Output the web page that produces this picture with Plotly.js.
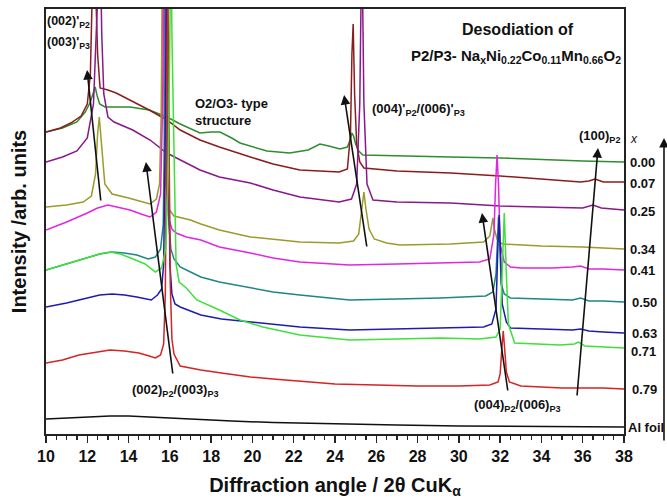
<!DOCTYPE html>
<html><head><meta charset="utf-8">
<script src="https://cdn.plot.ly/plotly-3.0.1.min.js"></script>
<style>body{margin:0;background:#fff}#chart{width:667px;height:504px}</style>
</head><body><div id="chart"></div>
<script>
// Series labels (Na content x) and colours
const seriesLabels = ["0.00", "0.07", "0.25", "0.34", "0.41", "0.50", "0.63", "0.71", "0.79", "Al foil"];
const seriesColors = ["#2f8c2f", "#8b1c1c", "#87198a", "#9c9a2a", "#e026df", "#1f8585", "#1c1cae", "#3fe03a", "#d42424", "#111111"];

// 2theta (deg) and intensity (arb.)
const x000 = [10, 10.8, 11.5, 11.9, 12.15, 12.28, 12.38, 12.48, 12.6, 12.86, 13.5, 14.07, 15.0, 15.86, 16.5, 17.46, 18.0, 18.43, 19.0, 19.4, 20.7, 21.8, 22.7, 23.27, 23.7, 24.24, 24.6, 24.75, 24.82, 24.9, 25.0, 25.15, 25.35, 27, 29.6, 32, 34.4, 36, 38];
const y000 = [302, 306, 312, 322, 332, 340, 347, 338, 330, 327, 327, 327, 324, 317, 310, 301, 302, 302, 296, 291, 283, 281, 284, 290, 288, 285, 287, 295, 301, 298, 290, 283, 279, 278, 277, 276, 274, 273, 272];

const x007 = [10, 10.7, 11.2, 11.7, 12.0, 12.15, 12.25, 12.32, 12.4, 12.5, 12.62, 13.0, 13.4, 14.07, 15.0, 15.86, 16.5, 17.46, 18.4, 19.9, 21, 22.3, 24.2, 24.6, 24.75, 24.82, 24.88, 24.95, 25.05, 25.2, 25.4, 27, 29.6, 32, 34, 35.9, 36.3, 36.6, 37, 38];
const y007 = [302, 306, 311, 318, 330, 360, 450, 500, 450, 380, 346, 344, 341, 334, 324, 314, 304, 294, 287, 277, 270, 264, 262, 265, 300, 380, 410, 340, 290, 272, 266, 263, 261, 258, 255, 252, 253, 255, 252, 252];

const x025 = [10, 10.8, 11.5, 12.0, 12.3, 12.45, 12.55, 12.62, 12.7, 12.8, 13.0, 13.3, 14.2, 15.04, 15.85, 16.5, 17.46, 18.4, 19.9, 21, 22.3, 24.2, 24.8, 25.05, 25.2, 25.3, 25.4, 25.55, 25.84, 27, 29.6, 32, 34, 36.0, 36.5, 36.9, 38];
const y025 = [272, 277, 283, 296, 330, 420, 500, 500, 400, 340, 317, 312, 304, 294, 281, 274, 264, 257, 251, 244, 237, 232, 235, 250, 330, 500, 330, 250, 234, 232, 231, 228, 227, 226, 229, 226, 224];

const x034 = [10, 11, 11.8, 12.2, 12.4, 12.5, 12.58, 12.68, 12.85, 13.2, 14.0, 15.04, 15.35, 15.5, 15.58, 15.65, 15.72, 15.8, 15.95, 16.2, 17.0, 17.5, 18.4, 19.9, 22.3, 24.2, 24.9, 25.15, 25.3, 25.4, 25.5, 25.65, 25.9, 26.5, 27.15, 29.6, 31.2, 31.5, 31.6, 31.65, 31.72, 31.85, 32.1, 34, 36, 38];
const y034 = [227, 229, 232, 238, 260, 300, 317, 290, 250, 240, 236, 230, 235, 250, 320, 500, 320, 250, 225, 218, 214, 210, 204, 197, 192, 191, 193, 200, 225, 242, 225, 205, 195, 191, 189, 190, 192, 198, 210, 216, 205, 195, 190, 188, 187, 185];

const x041 = [10, 11, 12, 12.5, 13.0, 13.5, 14.07, 14.6, 15.04, 15.35, 15.55, 15.65, 15.72, 15.78, 15.85, 15.95, 16.1, 16.3, 16.8, 17.5, 18.4, 19.9, 21, 22.3, 24.7, 27, 29.1, 31.0, 31.5, 31.7, 31.78, 31.85, 31.92, 32.0, 32.2, 32.5, 33, 34.5, 35.5, 35.9, 36.3, 37, 38];
const y041 = [204, 212, 221, 226, 229, 227, 224, 220, 217, 222, 240, 330, 500, 330, 240, 215, 205, 201, 197, 194, 187, 181, 176, 172, 169, 170, 171, 172, 175, 200, 250, 279, 250, 190, 172, 167, 166, 166, 167, 168, 165, 165, 164];

const x050 = [10, 11, 12, 12.6, 13.2, 13.8, 14.4, 14.95, 15.3, 15.55, 15.68, 15.75, 15.8, 15.86, 15.95, 16.05, 16.2, 16.5, 17.0, 17.5, 18.4, 19.9, 21, 22.3, 24.7, 27, 29.1, 31.3, 31.65, 31.8, 31.86, 31.92, 31.98, 32.05, 32.2, 32.5, 34, 35.5, 35.9, 36.3, 37, 38];
const y050 = [164, 170, 176, 180, 182, 181, 179, 175, 177, 185, 210, 330, 500, 330, 210, 185, 175, 167, 162, 157, 152, 146, 142, 139, 134, 135, 136, 138, 142, 160, 200, 217, 190, 150, 140, 136, 135, 134, 136, 133, 133, 132];

const x063 = [10, 11, 12, 12.6, 13.2, 13.8, 14.4, 15.1, 15.4, 15.6, 15.7, 15.78, 15.85, 15.92, 16.0, 16.1, 16.25, 16.5, 17.0, 17.5, 18.5, 19.9, 21, 22.3, 24.7, 27, 29.1, 31.2, 31.6, 31.8, 31.88, 31.95, 32.02, 32.1, 32.3, 32.5, 34, 35.5, 35.9, 36.3, 37, 38];
const y063 = [127, 131, 136, 139, 140, 139, 137, 134, 139, 145, 170, 300, 500, 300, 170, 140, 130, 127, 123, 119, 115, 112, 110, 107, 104, 105, 106, 107, 110, 125, 180, 219, 180, 130, 112, 106, 105, 104, 105, 103, 102, 101];

const x071 = [10, 11, 12, 12.6, 13.1, 13.6, 14.1, 14.8, 15.3, 15.6, 15.8, 15.92, 16.0, 16.05, 16.1, 16.18, 16.3, 16.45, 16.8, 17.3, 18.4, 19.4, 20.5, 22.3, 24.7, 27, 29.1, 31, 31.8, 32.0, 32.1, 32.2, 32.3, 32.4, 32.7, 33.5, 34.9, 35.6, 35.8, 36.1, 37, 38];
const y071 = [164, 170, 176, 180, 182, 180, 176, 170, 162, 166, 185, 260, 400, 500, 400, 300, 170, 152, 146, 134, 124, 114, 107, 99, 94, 95, 96, 95, 97, 105, 160, 221, 160, 110, 91, 90, 89, 90, 92, 88, 87, 86];

const x079 = [10, 10.8, 11.6, 12.4, 13.1, 13.8, 14.5, 15.0, 15.3, 15.55, 15.7, 15.78, 15.84, 15.9, 15.96, 16.02, 16.1, 16.2, 16.5, 17.0, 17.5, 18.5, 19.9, 21, 22.3, 24, 26, 28, 30, 31.5, 31.9, 32.0, 32.08, 32.15, 32.22, 32.3, 32.45, 33, 34, 35, 36, 37, 38];
const y079 = [71, 74, 79, 82, 84, 83, 81, 78, 76, 79, 90, 140, 300, 460, 300, 150, 95, 80, 68, 66, 64, 61, 57, 55, 53, 50, 49, 48, 48, 49, 52, 60, 85, 103, 85, 62, 52, 48, 47, 46, 46, 46, 45];

const xAl = [10, 11, 12, 13.1, 14, 15, 16, 17.5, 19, 21, 23, 25, 27, 30, 33, 36, 38];
const yAl = [15, 16, 17, 18, 18, 17, 15.5, 14, 13, 11.5, 10.5, 10, 9, 8, 7.5, 7, 7];

const xSeries = [x000, x007, x025, x034, x041, x050, x063, x071, x079, xAl];
const ySeries = [y000, y007, y025, y034, y041, y050, y063, y071, y079, yAl];

// x-axis ticks
const xTicks = [10, 12, 14, 16, 18, 20, 22, 24, 26, 28, 30, 32, 34, 36, 38];

// Layout geometry (pixels)
const W = 667, H = 504, L = 46, R = 43, T = 9, B = 70;
const PW = W - L - R, PH = H - T - B;
const px = p => (p - L) / PW;          // pixel x -> paper
const py = p => (H - B - p) / PH;      // pixel y -> paper

// draw order: back to front
const order = [9, 0, 1, 2, 3, 4, 5, 6, 8, 7];
const traces = order.map(i => ({
  type: "scatter", mode: "lines",
  x: xSeries[i], y: ySeries[i],
  name: seriesLabels[i],
  line: {color: seriesColors[i], width: 1.5},
  hoverinfo: "skip"
}));

const FONT = "Arial, 'Liberation Sans', sans-serif";
const bold = (size) => ({family: FONT, size: size, color: "#111", weight: 700});

const ann = [];
function label(text, xpx, ypx, size, anchor) {
  ann.push({text: text, xref: "paper", yref: "paper", x: px(xpx), y: py(ypx),
    xanchor: anchor || "left", yanchor: "middle", showarrow: false, font: bold(size), align: "left"});
}
label("(002)'<sub>P2</sub>", 45, 22, 12.5);
label("(003)'<sub>P3</sub>", 45, 43, 12.5);
label("Desodiation of", 518, 29, 16, "center");
label("P2/P3- Na<sub>x</sub>Ni<sub>0.22</sub>Co<sub>0.11</sub>Mn<sub>0.66</sub>O<sub>2</sub>", 623, 57, 15, "right");
label("O2/O3- type<br>structure", 193, 112, 13);
label("(004)'<sub>P2</sub>/(006)'<sub>P3</sub>", 370, 109, 13);
label("(100)<sub>P2</sub>", 577, 136, 13);
label("(002)<sub>P2</sub>/(003)<sub>P3</sub>", 130, 390, 13);
label("(004)<sub>P2</sub>/(006)<sub>P3</sub>", 472, 405, 13);
ann.push({text: "<i>x</i>", xref: "paper", yref: "paper", x: px(640), y: py(139), showarrow: false,
  yanchor: "middle", font: {family: FONT, size: 12, color: "#111"}});

// right-hand x labels
const rightY = [162, 183, 211, 249, 270, 302, 333, 351, 389, 427];
const rightX = [628, 628, 628, 628, 628, 630, 630, 629, 630, 626];
seriesLabels.forEach((s, i) => label(s, rightX[i], rightY[i], 13));

// arrows (tail -> head), in data coordinates of the plot
function arrow(x0, y0, x1, y1) {
  ann.push({x: x1, y: y1, ax: x0, ay: y0, xref: "x", yref: "y", axref: "x", ayref: "y",
    text: "", showarrow: true, arrowhead: 2, arrowsize: 1.2, arrowwidth: 1.6, arrowcolor: "#111"});
}
arrow(12.66, 232, 11.99, 364);
arrow(16.15, 59, 14.84, 272);
arrow(25.55, 186, 24.44, 339);
arrow(32.38, 42, 31.12, 221);
arrow(35.72, 37, 36.74, 286);
ann.push({x: px(664), y: py(138), xref: "paper", yref: "paper", ax: 0, ay: 304,
  text: "", showarrow: true, arrowhead: 2, arrowsize: 1.2, arrowwidth: 1.6, arrowcolor: "#111"});

const layout = {
  width: W, height: H,
  margin: {l: L, r: R, t: T, b: B},
  paper_bgcolor: "#fff", plot_bgcolor: "#fff",
  showlegend: false, hovermode: false,
  xaxis: {
    range: [10, 38], tickvals: xTicks, ticktext: xTicks.map(String),
    ticks: "outside", ticklen: 7, tickwidth: 1.5, tickcolor: "#222",
    minor: {dtick: 0.5, tick0: 10, ticks: "outside", ticklen: 4, tickwidth: 1.2, tickcolor: "#222"},
    showline: true, linecolor: "#222", linewidth: 2, mirror: true,
    showgrid: false, zeroline: false,
    tickfont: bold(16),
    title: {text: "Diffraction angle / 2θ CuK<sub>α</sub>", font: bold(20), standoff: 14}
  },
  yaxis: {
    range: [0, 425], showticklabels: false, ticks: "",
    showline: true, linecolor: "#222", linewidth: 2, mirror: true,
    showgrid: false, zeroline: false,
    title: {text: "Intensity /arb. units", font: bold(20), standoff: 12}
  },
  annotations: ann
};

Plotly.newPlot("chart", traces, layout, {staticPlot: true, displayModeBar: false});
</script>
</body></html>
